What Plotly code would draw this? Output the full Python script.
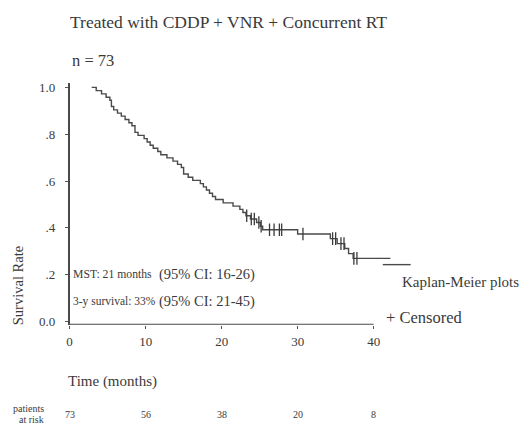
import numpy as np
import plotly.graph_objects as go

# ---- data ----
km_time = [2.9, 3.5, 4.2, 4.8, 5.3, 5.5, 5.8, 6.3, 6.8, 7.3, 7.8, 8.2, 8.6, 9.0, 9.8,
           10.2, 10.6, 11.0, 11.6, 12.0, 12.8, 13.6, 14.2, 14.7, 15.0, 15.6, 16.2,
           17.2, 17.6, 18.0, 18.4, 18.8, 19.2, 20.2, 21.5, 22.4, 22.8, 23.2, 23.8,
           24.6, 25.1, 25.4, 30.0, 34.3, 35.2, 36.2, 36.7, 37.3, 42.2]
km_surv = [1.0, 0.986, 0.972, 0.958, 0.945, 0.918, 0.904, 0.89, 0.877, 0.863, 0.849,
           0.836, 0.808, 0.795, 0.781, 0.767, 0.753, 0.740, 0.726, 0.712, 0.699, 0.685,
           0.671, 0.658, 0.630, 0.616, 0.603, 0.589, 0.575, 0.562, 0.548, 0.534, 0.521,
           0.507, 0.493, 0.479, 0.466, 0.452, 0.438, 0.423, 0.407, 0.392, 0.374, 0.354,
           0.333, 0.312, 0.29, 0.27, 0.27]
censor_time = [23.3, 23.9, 24.3, 24.9, 25.2, 26.3, 26.9, 27.6, 27.9, 30.7,
               34.6, 35.0, 35.7, 36.1, 37.4, 37.8]
x_ticks = [0, 10, 20, 30, 40]
y_ticks = [0.0, 0.2, 0.4, 0.6, 0.8, 1.0]
y_ticklabels = ["0.0", ".2", ".4", ".6", ".8", "1.0"]
at_risk = [73, 56, 38, 20, 8]

title = "Treated with CDDP + VNR + Concurrent RT"
n_text = "n = 73"
mst_text = ["MST: 21 months", "(95% CI: 16-26)"]
surv3_text = ["3-y survival: 33%", "(95% CI: 21-45)"]

# censor y from the step function
kt = np.array(km_time)
ks = np.array(km_surv)
censor_surv = [float(ks[np.searchsorted(kt, c, side="right") - 1]) for c in censor_time]

W, H = 525, 426
FONT = "'Liberation Serif', 'Times New Roman', serif"
COL = "#3a3a3a"

def px(x):
    return x / W

def py(y):
    return 1 - y / H

x0_px, x1_px = 67, 411
y_bot_px, y_top_px = 327, 81
xr = [0, 45]
yr = [-0.013, 1.02]

fig = go.Figure()
fig.add_trace(go.Scatter(x=km_time, y=km_surv, mode="lines", line_shape="hv",
                         line=dict(color="#4a4a4a", width=1.4), hoverinfo="skip"))
fig.add_trace(go.Scatter(x=censor_time, y=censor_surv, mode="markers",
                         marker=dict(symbol="line-ns-open", size=9, color="#3a3a3a",
                                     line=dict(color="#3a3a3a", width=1.3)),
                         hoverinfo="skip"))

fig.update_layout(
    width=W, height=H, margin=dict(l=0, r=0, t=0, b=0),
    paper_bgcolor="white", plot_bgcolor="white", showlegend=False,
    font=dict(family=FONT, color=COL, size=12),
    xaxis=dict(domain=[px(x0_px), px(x1_px)], range=xr, showgrid=False, zeroline=False,
               showline=False, tickvals=x_ticks, ticks="outside", ticklen=3,
               tickcolor="#555", tickfont=dict(family=FONT, size=13, color=COL),
               ticklabelstandoff=2),
    yaxis=dict(domain=[py(y_bot_px), py(y_top_px)], range=yr, showgrid=False,
               zeroline=False, showline=True, linecolor="#4a4a4a", linewidth=1.6,
               tickvals=y_ticks, ticktext=y_ticklabels, ticks="outside", ticklen=3,
               tickcolor="#555", tickfont=dict(family=FONT, size=13, color=COL),
               ticklabelstandoff=7),
)

# x axis line only to 40
fig.add_shape(type="line", xref="x", yref="y", x0=0, x1=40, y0=yr[0], y1=yr[0],
              line=dict(color="#4a4a4a", width=1.6))
# legend line sample
fig.add_shape(type="line", xref="paper", yref="paper", x0=px(382), x1=px(410),
              y0=py(266), y1=py(266), line=dict(color="#4a4a4a", width=1.4))

def ann(text, x, y, size=12, xanchor="left", **kw):
    fig.add_annotation(text=text, x=px(x), y=py(y), xref="paper", yref="paper",
                       showarrow=False, xanchor=xanchor, yanchor="middle",
                       font=dict(family=FONT, size=size, color=COL), **kw)

ann(title, 65, 19, size=17.5)
ann(n_text, 67, 58, size=16.5)
ann(mst_text[0], 68, 276, size=11.7)
ann(mst_text[1], 155, 276, size=14.5)
ann(surv3_text[0], 68, 303, size=11.5)
ann(surv3_text[1], 155, 303, size=14.5)
ann("Kaplan-Meier plots", 399, 284, size=15)
ann("+ Censored", 383, 320, size=16.5)
ann("Survival Rate", 15, 287, size=14.5, xanchor="center", textangle=-90)
ann("Time (months)", 63, 385, size=15)
ann("patients", 43, 412, size=10, xanchor="right")
ann("at risk", 43, 423, size=10, xanchor="right")

for t, n in zip(x_ticks, at_risk):
    fig.add_annotation(text=str(n), x=t, y=py(418), xref="x", yref="paper",
                       showarrow=False, xanchor="center", yanchor="middle",
                       font=dict(family=FONT, size=10, color=COL))

fig.write_html("out.html")
